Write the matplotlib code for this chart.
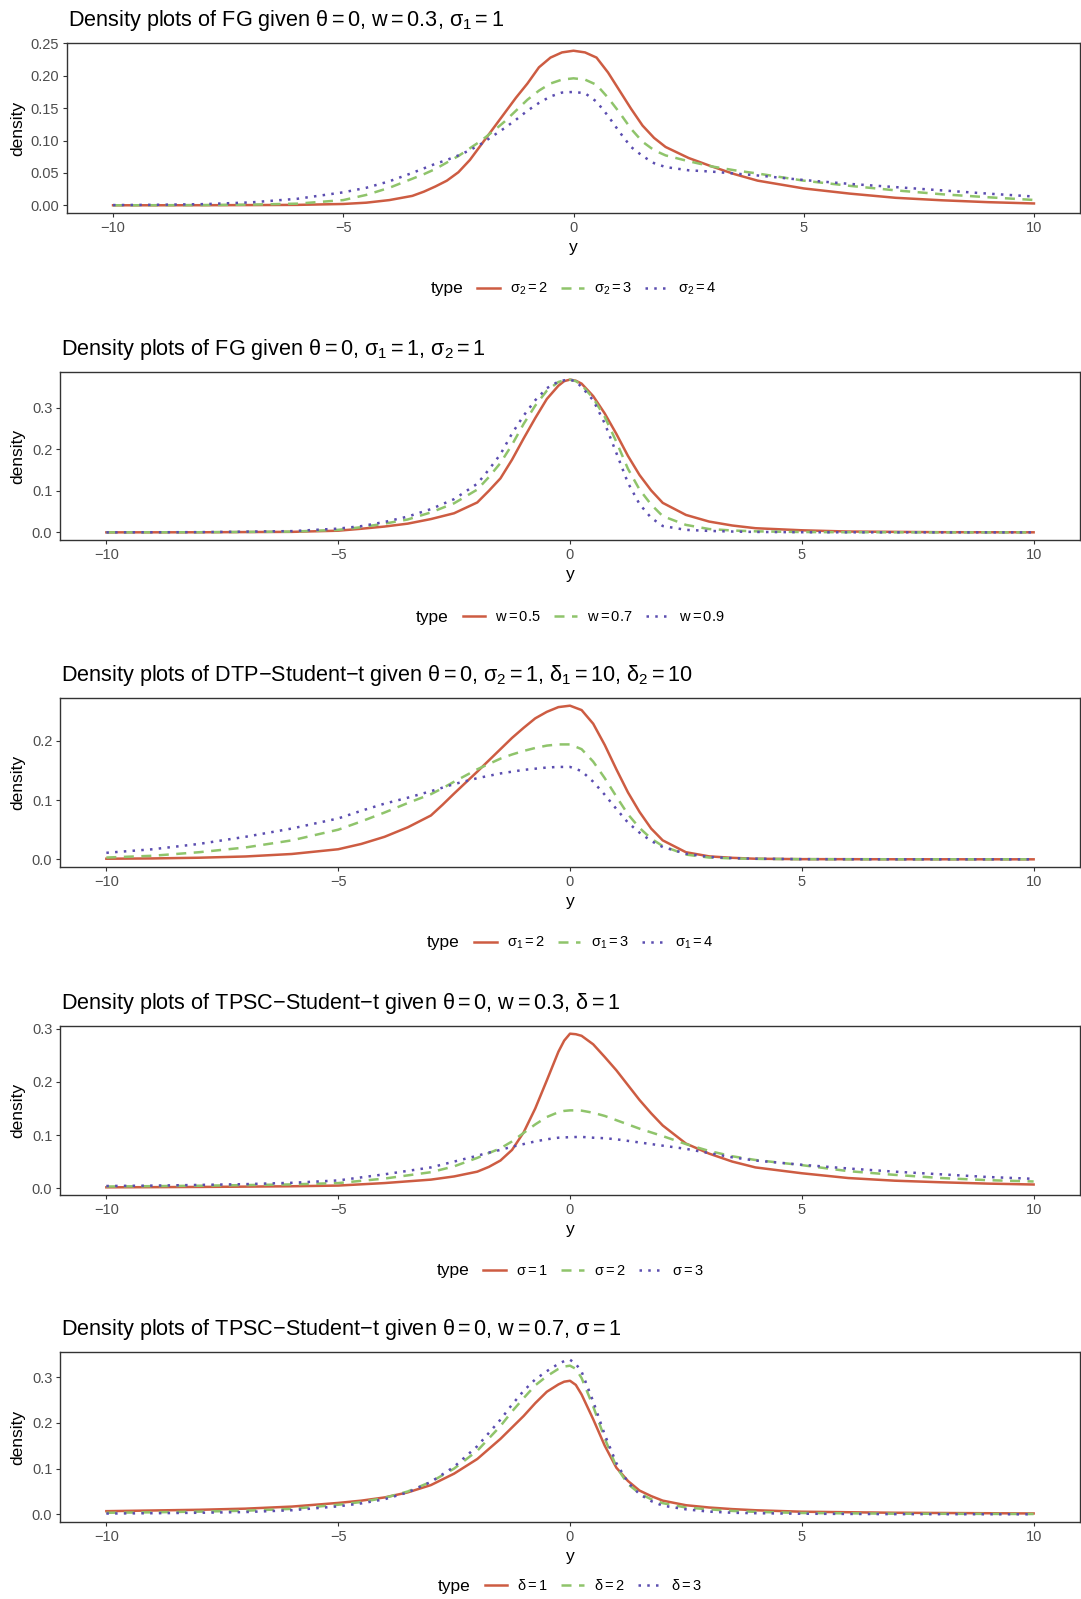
import numpy as np
import matplotlib
matplotlib.use('Agg')
import matplotlib.pyplot as plt
from matplotlib.lines import Line2D

plt.rcParams['font.family'] = ['Liberation Sans', 'DejaVu Sans']
plt.rcParams['mathtext.fontset'] = 'custom'
plt.rcParams['mathtext.rm'] = 'Liberation Sans'
plt.rcParams['mathtext.it'] = 'Liberation Sans'
plt.rcParams['mathtext.bf'] = 'Liberation Sans:bold'
plt.rcParams['mathtext.sf'] = 'Liberation Sans'

# ---- panel 1: FG, theta=0, w=0.3, sigma1=1 ----
fg1_x = [-10, -9, -8, -7, -6, -5, -4.5, -4, -3.5, -3.25, -3, -2.75, -2.5, -2.25, -2, -1.75, -1.5, -1.25,
         -1, -0.75, -0.5, -0.25, 0, 0.25, 0.5, 0.75, 1, 1.25, 1.5, 1.75, 2, 2.5, 3, 3.5, 4, 5, 6, 7, 8, 9, 10]
fg1_s2_2 = [0, 0, 0.0001, 0.0003, 0.0006, 0.002, 0.004, 0.008, 0.0145, 0.021, 0.029, 0.038, 0.051, 0.070,
            0.094, 0.118, 0.142, 0.166, 0.188, 0.213, 0.228, 0.236, 0.2386, 0.236, 0.228, 0.205, 0.177,
            0.149, 0.123, 0.104, 0.090, 0.073, 0.060, 0.048, 0.038, 0.026, 0.018, 0.0115, 0.0077, 0.0048,
            0.0028]
fg1_s2_3 = [0, 0.0001, 0.0003, 0.001, 0.0025, 0.008, 0.016, 0.027, 0.041, 0.048, 0.056, 0.066, 0.076, 0.088,
            0.100, 0.114, 0.129, 0.146, 0.163, 0.177, 0.188, 0.194, 0.196, 0.194, 0.186, 0.166, 0.143,
            0.118, 0.098, 0.085, 0.077, 0.068, 0.060, 0.054, 0.049, 0.038, 0.030, 0.023, 0.017, 0.0124,
            0.0082]
fg1_s2_4 = [0.0003, 0.0008, 0.0018, 0.0045, 0.010, 0.020, 0.027, 0.037, 0.050, 0.057, 0.064, 0.070, 0.077,
            0.085, 0.095, 0.107, 0.119, 0.132, 0.146, 0.158, 0.168, 0.174, 0.175, 0.173, 0.160, 0.138,
            0.113, 0.090, 0.076, 0.065, 0.059, 0.054, 0.052, 0.049, 0.046, 0.039, 0.033, 0.028, 0.023,
            0.018, 0.0135]

# ---- panel 2: FG, theta=0, sigma1=1, sigma2=1 ----
fg2_x = [-10, -8, -6, -5, -4.5, -4, -3.5, -3, -2.5, -2, -1.75, -1.5, -1.25, -1, -0.75, -0.5, -0.25, -0.125,
         0, 0.125, 0.25, 0.5, 0.75, 1, 1.25, 1.5, 1.75, 2, 2.5, 3, 3.5, 4, 5, 6, 8, 10]
fg2_w05 = [0, 0.0002, 0.0012, 0.004, 0.0087, 0.014, 0.021, 0.032, 0.046, 0.072, 0.100, 0.130, 0.175, 0.226,
           0.275, 0.321, 0.353, 0.364, 0.3676, 0.365, 0.358, 0.328, 0.286, 0.237, 0.184, 0.138, 0.101,
           0.071, 0.042, 0.026, 0.0165, 0.010, 0.005, 0.002, 0.0004, 0.0001]
fg2_w07 = [0, 0.0003, 0.0018, 0.006, 0.0125, 0.021, 0.031, 0.048, 0.070, 0.103, 0.133, 0.167, 0.211, 0.261,
           0.305, 0.341, 0.362, 0.366, 0.3676, 0.364, 0.355, 0.323, 0.278, 0.218, 0.153, 0.103, 0.067,
           0.039, 0.018, 0.008, 0.0045, 0.0025, 0.0008, 0.0003, 0, 0]
fg2_w09 = [0, 0.0005, 0.003, 0.009, 0.015, 0.025, 0.038, 0.056, 0.080, 0.117, 0.151, 0.188, 0.238, 0.281,
           0.318, 0.347, 0.363, 0.366, 0.3676, 0.363, 0.350, 0.318, 0.262, 0.191, 0.119, 0.068, 0.035,
           0.0153, 0.006, 0.0035, 0.002, 0.001, 0.0003, 0.0001, 0, 0]

# ---- panel 3: DTP-Student-t, theta=0, sigma2=1, delta1=delta2=10 ----
dtp_x = [-10, -9, -8, -7, -6, -5, -4.5, -4, -3.5, -3, -2.75, -2.5, -2, -1.5, -1.25, -1, -0.75, -0.5, -0.25,
         0, 0.25, 0.5, 0.75, 1, 1.25, 1.5, 1.75, 2, 2.5, 3, 3.5, 4, 5, 7, 10]
dtp_s1_2 = [0.001, 0.0015, 0.0027, 0.0048, 0.009, 0.017, 0.026, 0.038, 0.054, 0.074, 0.092, 0.111, 0.148,
            0.186, 0.205, 0.222, 0.238, 0.249, 0.257, 0.2594, 0.252, 0.229, 0.193, 0.152, 0.113, 0.080,
            0.052, 0.032, 0.012, 0.005, 0.0025, 0.001, 0.0003, 0.0001, 0]
dtp_s1_3 = [0.003, 0.006, 0.012, 0.020, 0.032, 0.050, 0.064, 0.079, 0.095, 0.110, 0.120, 0.131, 0.152,
            0.170, 0.177, 0.183, 0.188, 0.192, 0.194, 0.194, 0.186, 0.165, 0.137, 0.106, 0.076, 0.053,
            0.035, 0.0224, 0.008, 0.003, 0.0015, 0.0008, 0.0002, 0, 0]
dtp_s1_4 = [0.011, 0.017, 0.026, 0.038, 0.052, 0.069, 0.082, 0.094, 0.104, 0.115, 0.121, 0.127, 0.137,
            0.145, 0.148, 0.151, 0.153, 0.155, 0.156, 0.156, 0.149, 0.131, 0.109, 0.085, 0.062, 0.045,
            0.031, 0.0207, 0.0095, 0.004, 0.002, 0.001, 0.0003, 0, 0]

# ---- panel 4: TPSC-Student-t, theta=0, w=0.3, delta=1 ----
tpsc1_x = [-10, -9, -8, -7, -6, -5, -4, -3, -2.5, -2, -1.75, -1.5, -1.25, -1, -0.75, -0.5, -0.25, -0.125,
           0, 0.125, 0.25, 0.5, 0.75, 1, 1.25, 1.5, 1.75, 2, 2.5, 3, 3.5, 4, 5, 6, 7, 8, 9, 10]
tpsc1_s1 = [0.0015, 0.0018, 0.0022, 0.0028, 0.0035, 0.0048, 0.0095, 0.016, 0.022, 0.031, 0.040, 0.052,
            0.072, 0.105, 0.150, 0.203, 0.257, 0.278, 0.291, 0.290, 0.287, 0.271, 0.247, 0.222, 0.194,
            0.166, 0.141, 0.118, 0.084, 0.065, 0.050, 0.039, 0.028, 0.019, 0.014, 0.011, 0.0085, 0.0068]
tpsc1_s2 = [0.003, 0.0037, 0.0045, 0.0057, 0.007, 0.0095, 0.018, 0.030, 0.041, 0.057, 0.066, 0.075, 0.088,
            0.104, 0.120, 0.134, 0.143, 0.1455, 0.1465, 0.1465, 0.146, 0.142, 0.136, 0.128, 0.120, 0.112,
            0.105, 0.098, 0.083, 0.070, 0.060, 0.053, 0.0433, 0.032, 0.025, 0.019, 0.015, 0.0125]
tpsc1_s3 = [0.004, 0.0047, 0.006, 0.0075, 0.010, 0.0145, 0.026, 0.039, 0.050, 0.061, 0.067, 0.072, 0.078,
            0.083, 0.088, 0.092, 0.095, 0.0955, 0.096, 0.0963, 0.0965, 0.095, 0.094, 0.092, 0.089, 0.086,
            0.083, 0.080, 0.074, 0.066, 0.058, 0.052, 0.044, 0.037, 0.031, 0.026, 0.021, 0.0175]

# ---- panel 5: TPSC-Student-t, theta=0, w=0.7, sigma=1 ----
tpsc2_x = [-10, -9, -8, -7, -6, -5, -4.5, -4, -3.5, -3, -2.5, -2, -1.5, -1.25, -1, -0.75, -0.5, -0.25,
           -0.125, 0, 0.125, 0.25, 0.5, 0.75, 1, 1.25, 1.5, 1.75, 2, 2.5, 3, 3.5, 4, 5, 7, 10]
tpsc2_d1 = [0.007, 0.0085, 0.010, 0.0125, 0.017, 0.025, 0.030, 0.037, 0.048, 0.064, 0.089, 0.121, 0.165,
            0.190, 0.215, 0.243, 0.268, 0.284, 0.290, 0.292, 0.283, 0.262, 0.208, 0.150, 0.102, 0.073,
            0.052, 0.040, 0.030, 0.020, 0.015, 0.0115, 0.009, 0.0058, 0.0035, 0.002]
tpsc2_d2 = [0.0035, 0.0045, 0.006, 0.008, 0.012, 0.021, 0.027, 0.036, 0.050, 0.071, 0.100, 0.139, 0.193,
            0.225, 0.254, 0.282, 0.302, 0.318, 0.323, 0.325, 0.318, 0.298, 0.236, 0.166, 0.104, 0.066,
            0.046, 0.033, 0.0245, 0.015, 0.011, 0.0075, 0.0055, 0.003, 0.0015, 0.0008]
tpsc2_d3 = [0.0018, 0.0025, 0.0035, 0.005, 0.009, 0.0175, 0.024, 0.033, 0.048, 0.071, 0.104, 0.149, 0.207,
            0.240, 0.270, 0.295, 0.313, 0.329, 0.335, 0.338, 0.329, 0.312, 0.247, 0.174, 0.112, 0.070,
            0.044, 0.029, 0.019, 0.011, 0.006, 0.0035, 0.0025, 0.0014, 0.0005, 0.0002]

titles = [
    r'Density plots of FG given $\theta = 0$, $w = 0.3$, $\sigma_1 = 1$',
    r'Density plots of FG given $\theta = 0$, $\sigma_1 = 1$, $\sigma_2 = 1$',
    r'Density plots of DTP−Student−t given $\theta = 0$, $\sigma_2 = 1$, $\delta_1 = 10$, $\delta_2 = 10$',
    r'Density plots of TPSC−Student−t given $\theta = 0$, $w = 0.3$, $\delta = 1$',
    r'Density plots of TPSC−Student−t given $\theta = 0$, $w = 0.7$, $\sigma = 1$',
]
legend_labels = [
    [r'$\sigma_2 = 2$', r'$\sigma_2 = 3$', r'$\sigma_2 = 4$'],
    [r'$w = 0.5$', r'$w = 0.7$', r'$w = 0.9$'],
    [r'$\sigma_1 = 2$', r'$\sigma_1 = 3$', r'$\sigma_1 = 4$'],
    [r'$\sigma = 1$', r'$\sigma = 2$', r'$\sigma = 3$'],
    [r'$\delta = 1$', r'$\delta = 2$', r'$\delta = 3$'],
]
panel_data = [
    (fg1_x, [fg1_s2_2, fg1_s2_3, fg1_s2_4]),
    (fg2_x, [fg2_w05, fg2_w07, fg2_w09]),
    (dtp_x, [dtp_s1_2, dtp_s1_3, dtp_s1_4]),
    (tpsc1_x, [tpsc1_s1, tpsc1_s2, tpsc1_s3]),
    (tpsc2_x, [tpsc2_d1, tpsc2_d2, tpsc2_d3]),
]
y_ticks = [
    [0, 0.05, 0.10, 0.15, 0.20, 0.25],
    [0, 0.1, 0.2, 0.3],
    [0, 0.1, 0.2],
    [0, 0.1, 0.2, 0.3],
    [0, 0.1, 0.2, 0.3],
]
y_fmt = ['%.2f', '%.1f', '%.1f', '%.1f', '%.1f']

# layout in pixels: left, top, right, bottom of each panel; legend centre y
W, H = 1081, 1599
frames = [(67, 43, 1080, 213), (60, 372, 1080, 540), (60, 698, 1080, 867),
          (60, 1026, 1080, 1195), (60, 1352, 1080, 1522)]
legend_y = [289, 617, 943, 1271, 1586]

colors = ['#CD5C42', '#8FC46B', '#5B4DB0']
styles = [dict(linestyle='-'), dict(dashes=(4, 3)), dict(dashes=(1, 2.5))]
line_w = 1.8

fig = plt.figure(figsize=(W / 100, H / 100), dpi=100)

legends = []
for i in range(5):
    l, t, r, b = frames[i]
    ax = fig.add_axes([l / W, 1 - b / H, (r - l) / W, (b - t) / H])
    xs, series = panel_data[i]
    for y, c, st in zip(series, colors, styles):
        ax.plot(xs, y, color=c, lw=line_w, solid_joinstyle='round', **st)
    allv = np.concatenate([np.asarray(s, float) for s in series])
    lo, hi = allv.min(), allv.max()
    pad = 0.05 * (hi - lo)
    ax.set_ylim(lo - pad, hi + pad)
    ax.set_xlim(-11, 11)
    ax.set_xticks([-10, -5, 0, 5, 10])
    ax.set_yticks(y_ticks[i])
    ax.set_yticklabels([y_fmt[i] % v for v in y_ticks[i]])
    ax.tick_params(direction='out', length=3, width=0.8, color='#333333',
                   labelsize=10.5, labelcolor='#4D4D4D', pad=2.5)
    for sp in ax.spines.values():
        sp.set_color('#333333')
        sp.set_linewidth(1.0)

    fig.text((l + 1) / W, 1 - (t - 17) / H, titles[i], fontsize=15.6, ha='left', va='baseline')
    fig.text((l + r) / 2 / W, 1 - (b + 39) / H, 'y', fontsize=12.5, ha='center', va='baseline')
    fig.text(17.5 / W, 1 - (t + b) / 2 / H, 'density', fontsize=12.5, rotation=90,
             ha='center', va='center')

    handles = [Line2D([], [], color=c, lw=line_w, **st) for c, st in zip(colors, styles)]
    leg = fig.legend(handles, legend_labels[i], loc='center left', ncol=3, frameon=False,
                     fontsize=10.5, handlelength=1.55, handletextpad=0.7, columnspacing=0.9,
                     borderpad=0, borderaxespad=0,
                     bbox_to_anchor=((l + r) / 2 / W, 1 - legend_y[i] / H))
    ttl = fig.text(0, 1 - legend_y[i] / H, 'type', fontsize=12.5, ha='left', va='center')
    legends.append((leg, ttl, (l + r) / 2))

# centre "type" + keys as one group under each panel
fig.canvas.draw()
rend = fig.canvas.get_renderer()
gap = 14
for leg, ttl, cx in legends:
    wl = leg.get_window_extent(rend).width
    wt = ttl.get_window_extent(rend).width
    x0 = cx - (wt + gap + wl) / 2
    ttl.set_x(x0 / W)
    leg.set_bbox_to_anchor(((x0 + wt + gap) / W, leg.get_bbox_to_anchor().y0 / H),
                           transform=fig.transFigure)

fig.savefig('out.png', dpi=100)
